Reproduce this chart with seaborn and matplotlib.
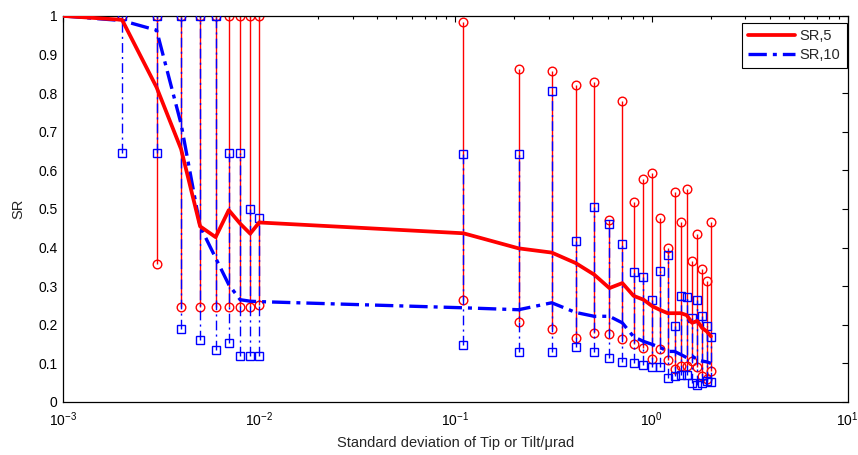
import numpy as np
import matplotlib as mpl
mpl.use('Agg')
import matplotlib.pyplot as plt
import seaborn as sns
from matplotlib.ticker import FixedLocator, FuncFormatter

sns.set_style('white')
plt.rcParams['font.family'] = ['Liberation Sans', 'DejaVu Sans']
plt.rcParams['mathtext.fontset'] = 'custom'
plt.rcParams['mathtext.rm'] = 'Liberation Sans'

# standard deviation of tip/tilt (urad)
sigma = [0.001, 0.002, 0.003, 0.004, 0.005, 0.006, 0.007, 0.008, 0.009,
         0.01, 0.11, 0.21, 0.31, 0.41, 0.51, 0.61, 0.71, 0.81, 0.91, 1.01,
         1.11, 1.21, 1.31, 1.41, 1.51, 1.61, 1.71, 1.81, 1.91, 2.01]

sr5_mean = [1.0, 0.99, 0.815, 0.655, 0.455, 0.427, 0.497, 0.462, 0.436,
            0.465, 0.437, 0.398, 0.387, 0.36, 0.33, 0.295, 0.308, 0.275,
            0.265, 0.248, 0.238, 0.23, 0.23, 0.23, 0.225, 0.205, 0.21,
            0.192, 0.183, 0.17]
sr5_max = [np.nan, 1.0, 1.0, 1.0, 1.0, 1.0, 1.0, 1.0, 1.0, 1.0, 0.985,
           0.862, 0.858, 0.821, 0.829, 0.472, 0.78, 0.517, 0.578, 0.593,
           0.476, 0.399, 0.543, 0.466, 0.552, 0.364, 0.435, 0.345, 0.314,
           0.466]
sr5_min = [np.nan, 1.0, 0.357, 0.245, 0.245, 0.245, 0.245, 0.245, 0.245,
           0.25, 0.263, 0.208, 0.189, 0.166, 0.179, 0.177, 0.162, 0.151,
           0.139, 0.112, 0.138, 0.11, 0.086, 0.093, 0.093, 0.106, 0.09,
           0.067, 0.059, 0.08]

sr10_mean = [1.0, 0.988, 0.963, 0.72, 0.455, 0.373, 0.304, 0.265, 0.261,
             0.26, 0.244, 0.239, 0.257, 0.232, 0.222, 0.222, 0.205, 0.169,
             0.157, 0.149, 0.141, 0.131, 0.131, 0.123, 0.115, 0.119, 0.11,
             0.106, 0.104, 0.1]
sr10_max = [np.nan, 1.0, 1.0, 1.0, 1.0, 1.0, 0.644, 0.644, 0.501, 0.476,
            0.642, 0.642, 0.805, 0.417, 0.506, 0.462, 0.409, 0.336, 0.323,
            0.264, 0.339, 0.38, 0.196, 0.274, 0.272, 0.218, 0.265, 0.224,
            0.198, 0.168]
sr10_min = [np.nan, 0.644, 0.644, 0.189, 0.16, 0.134, 0.153, 0.12, 0.12,
            0.12, 0.148, 0.129, 0.13, 0.142, 0.13, 0.115, 0.104, 0.102,
            0.095, 0.09, 0.09, 0.063, 0.067, 0.071, 0.071, 0.05, 0.043,
            0.05, 0.055, 0.052]

red = '#ff0000'
blue = '#0000ff'

fig = plt.figure(figsize=(8.58, 4.55), dpi=100)
ax = fig.add_axes([0.0734, 0.1165, 0.9146, 0.8485])
ax.set_xscale('log')

# spread bars (min to max)
ax.vlines(sigma, sr5_min, sr5_max, colors=red, linewidth=1.0, zorder=2)
ax.plot(sigma, sr5_max, 'o', ms=6.2, mfc='none', mec=red, mew=1.0, zorder=2)
ax.plot(sigma, sr5_min, 'o', ms=6.2, mfc='none', mec=red, mew=1.0, zorder=2)

ax.vlines(sigma, sr10_min, sr10_max, colors=blue, linewidth=1.0,
          linestyles=[(0, (7, 3, 1.5, 3))], zorder=3)
ax.plot(sigma, sr10_max, 's', ms=6.2, mfc='none', mec=blue, mew=1.0,
        zorder=3)
ax.plot(sigma, sr10_min, 's', ms=6.2, mfc='none', mec=blue, mew=1.0,
        zorder=3)

# mean curves
sns.lineplot(x=sigma, y=sr10_mean, ax=ax, color=blue, linewidth=2.4,
             linestyle=(0, (5.5, 1.8, 1.2, 1.8)), label='SR,10', zorder=4)
sns.lineplot(x=sigma, y=sr5_mean, ax=ax, color=red, linewidth=2.7,
             label='SR,5', zorder=5)

ax.set_xlim(1e-3, 1e1)
ax.set_ylim(0, 1)
ax.yaxis.set_major_locator(FixedLocator(np.arange(0, 1.01, 0.1)))
ax.yaxis.set_major_formatter(FuncFormatter(lambda v, p: '{:g}'.format(round(v, 1))))

ax.tick_params(axis='both', which='both', direction='in', top=True,
               right=True, labelsize=10, colors='black')
ax.tick_params(which='major', length=4, width=0.8)
ax.tick_params(which='minor', length=2.5, width=0.8)
ax.tick_params(axis='x', pad=6)
ax.tick_params(axis='y', pad=4)
for sp in ax.spines.values():
    sp.set_color('black')
    sp.set_linewidth(0.9)

ax.set_xlabel('Standard deviation of Tip or Tilt/\u03bcrad', fontsize=10.5,
              labelpad=5)
ax.set_ylabel('SR', fontsize=10.5, labelpad=9)

handles, labels = ax.get_legend_handles_labels()
order = [labels.index('SR,5'), labels.index('SR,10')]
leg = ax.legend([handles[i] for i in order], [labels[i] for i in order],
                loc='upper right', bbox_to_anchor=(0.9987, 0.982),
                borderaxespad=0, fancybox=False, framealpha=1,
                edgecolor='black', fontsize=10.5, handlelength=3.2,
                handletextpad=0.3, borderpad=0.45, labelspacing=0.3)
leg.get_frame().set_linewidth(0.8)

fig.savefig('out.png', dpi=100)
plt.close()
